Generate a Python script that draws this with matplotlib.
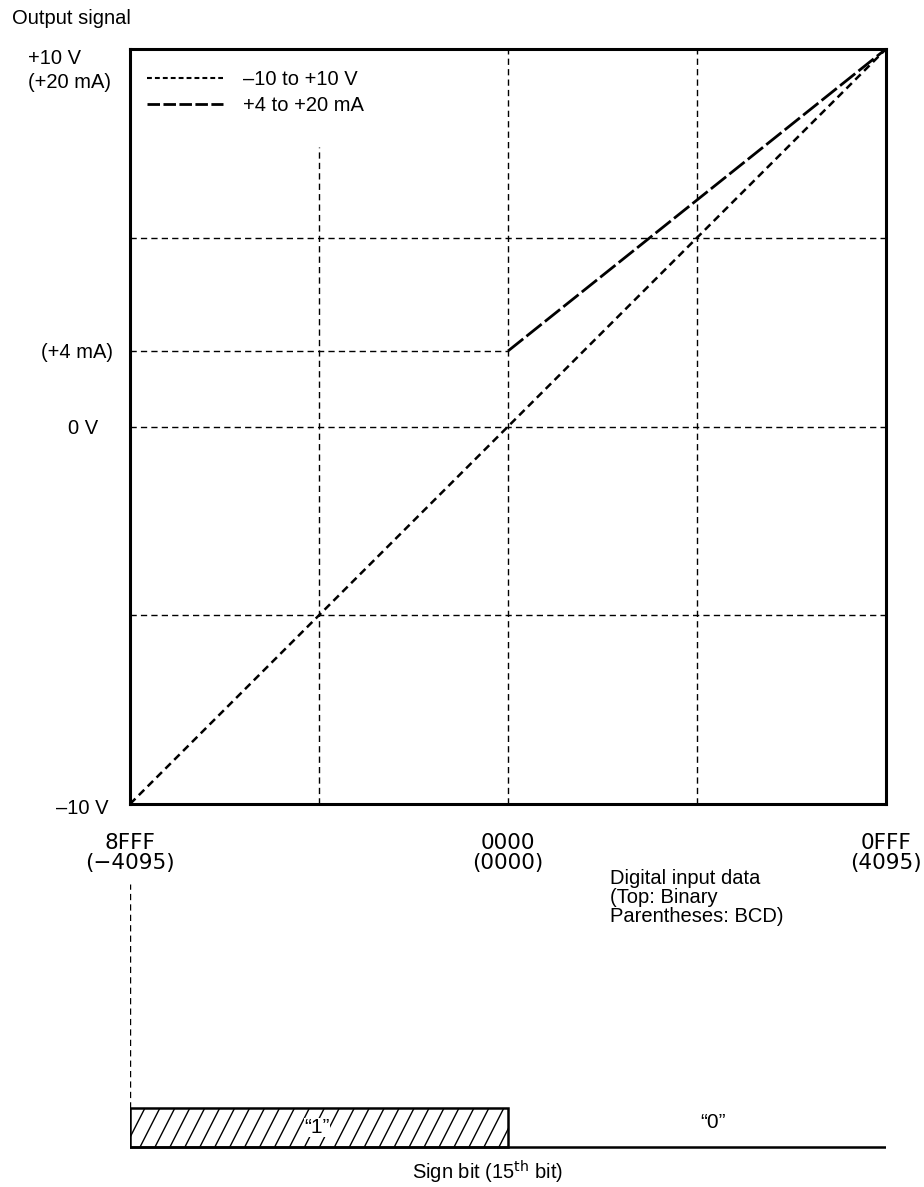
import matplotlib
matplotlib.use("Agg")
import matplotlib.pyplot as plt
import numpy as np
from matplotlib.lines import Line2D
from matplotlib.patches import Rectangle

plt.rcParams["font.family"] = ["Liberation Sans", "DejaVu Sans"]
plt.rcParams["lines.scale_dashes"] = False

# data
digital = [-4095, 0, 4095]                      # 8FFF, 0000, 0FFF
digital_hex = ["8FFF", "0000", "0FFF"]
digital_bcd = ["(\u22124095)", "(0000)", "(4095)"]
volt_out = [-10, 0, 10]                         # -10 to +10 V range
current_in = [0, 4095]
current_out = [4, 20]                           # +4 to +20 mA range (mA)
ma_to_axis = 0.5                                # 20 mA drawn at +10 V level
grid_v = [-2047.5, 0, 2047.5]
grid_h = [-5, 0, 5]
sign_one = (-4095, 0)                           # sign bit = 1 region

W, H = 924, 1187
FS = 14.5
fig = plt.figure(figsize=(W / 100, H / 100), dpi=100)


def fx(px):
    return px / W


def fy(py):
    return 1 - py / H


def rect(l, t, r, b):
    return [fx(l), fy(b), fx(r) - fx(l), fy(t) - fy(b)]


ax = fig.add_axes(rect(130, 49, 886, 804))
ax.set_xlim(digital[0], digital[-1])
ax.set_ylim(volt_out[0], volt_out[-1])
for s in ax.spines.values():
    s.set_linewidth(2.2)

grid_kw = dict(color="black", lw=1.0, dashes=(4.5, 3.0))
# vertical guides (the left one stops under the legend)
ax.plot([grid_v[0]] * 2, [volt_out[0], 7.4], **grid_kw)
for gx in grid_v[1:]:
    ax.plot([gx] * 2, [volt_out[0], volt_out[-1]], **grid_kw)
for gy in grid_h:
    ax.plot([digital[0], digital[-1]], [gy] * 2, **grid_kw)
ax.plot([digital[0], current_in[0]], [current_out[0] * ma_to_axis] * 2, **grid_kw)

ax.plot(digital, volt_out, color="black", lw=1.8, dashes=(5.5, 3.5))
ax.plot(current_in, [c * ma_to_axis for c in current_out], color="black",
        lw=2.0, dashes=(14, 3))

handles = [
    Line2D([], [], color="black", lw=1.5, dashes=(3.5, 2.2)),
    Line2D([], [], color="black", lw=2.0, dashes=(9, 2.5)),
]
ax.legend(handles, ["\u201310 to +10 V", "+4 to +20 mA"], loc="upper left",
          bbox_to_anchor=(0.022, 0.972), frameon=False, fontsize=FS,
          handlelength=3.8, handletextpad=1.0, labelspacing=0.35,
          borderpad=0, borderaxespad=0)

ax.set_xticks(digital)
ax.set_xticklabels([f"{h}\n{b}" for h, b in zip(digital_hex, digital_bcd)],
                   fontsize=15.5, linespacing=1.0, family="DejaVu Sans")
ax.tick_params(axis="x", length=0, pad=21)
ax.set_yticks([])

# y-side labels
fig.text(fx(28), fy(58), "+10 V", fontsize=FS, va="center", ha="left")
fig.text(fx(28), fy(82), "(+20 mA)", fontsize=FS, va="center", ha="left")
fig.text(fx(113), fy(352), "(+4 mA)", fontsize=FS, va="center", ha="right")
fig.text(fx(98), fy(429), "0 V", fontsize=FS, va="center", ha="right")
fig.text(fx(108), fy(808), "\u201310 V", fontsize=FS, va="center", ha="right")
fig.text(fx(12), fy(18), "Output signal", fontsize=FS, va="center", ha="left")
fig.text(fx(610), fy(869), "Digital input data\n(Top: Binary\nParentheses: BCD)",
         fontsize=FS, va="top", ha="left", linespacing=1.0)

# sign bit strip
bx = fig.add_axes(rect(130, 855, 886, 1150))
bx.set_xlim(digital[0], digital[-1])
bx.set_ylim(-0.077, 7.49)
bx.axis("off")
box = Rectangle((sign_one[0], 0), sign_one[1] - sign_one[0], 1,
                fill=False, lw=1.8, edgecolor="black", zorder=3)
bx.add_patch(box)
# steep hatch lines clipped to the "1" box
step, lean = 162, 215
for x0 in np.arange(sign_one[0] - lean, sign_one[1] + step, step):
    hl, = bx.plot([x0, x0 + lean], [0, 1], color="black", lw=1.0, zorder=2)
    hl.set_clip_path(box)
bx.plot([digital[0], digital[-1]], [0, 0], color="black", lw=1.8)
bx.plot([digital[0]] * 2, [1, 6.75], color="black", lw=1.0, dashes=(4.5, 3.0))
bx.text(-2070, 0.5, "\u201c1\u201d", fontsize=15, ha="center", va="center",
        zorder=4, bbox=dict(facecolor="white", edgecolor="none", pad=0.3))
bx.text(2219, 0.62, "\u201c0\u201d", fontsize=15, ha="center", va="center")
fig.text(fx(412), fy(1172), "Sign bit (15$^{\\mathrm{th}}$ bit)", fontsize=FS,
         va="center", ha="left")

fig.savefig("out.png", dpi=100)
